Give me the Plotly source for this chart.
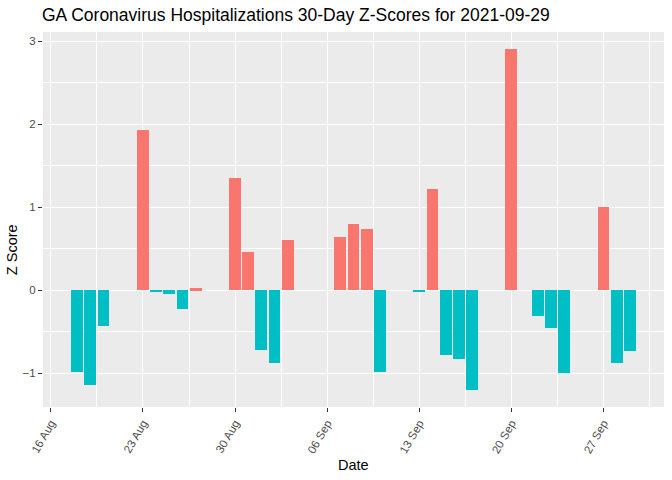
import plotly.graph_objects as go

dates = ["2021-08-18", "2021-08-19", "2021-08-20", "2021-08-23", "2021-08-24",
         "2021-08-25", "2021-08-26", "2021-08-27", "2021-08-30", "2021-08-31",
         "2021-09-01", "2021-09-02", "2021-09-03", "2021-09-07", "2021-09-08",
         "2021-09-09", "2021-09-10", "2021-09-13", "2021-09-14", "2021-09-15",
         "2021-09-16", "2021-09-17", "2021-09-20", "2021-09-22", "2021-09-23",
         "2021-09-24", "2021-09-27", "2021-09-28", "2021-09-29"]
z_scores = [-0.99, -1.145, -0.434, 1.928, -0.013,
            -0.048, -0.229, 0.024, 1.349, 0.458,
            -0.723, -0.88, 0.602, 0.639, 0.795,
            0.735, -0.988, -0.024, 1.217, -0.783,
            -0.831, -1.205, 2.904, -0.313, -0.458,
            -1.0, 1.0, -0.88, -0.735]

pos_color = "#F8766D"
neg_color = "#00BFC4"
colors = [pos_color if v > 0 else neg_color for v in z_scores]

DAY = 86400000
W, H = 672, 480
L, R, T, B = 43, 8, 32, 73.3
PW, PH = W - L - R, H - T - B

fig = go.Figure()
fig.add_trace(go.Bar(x=dates, y=z_scores, marker_color=colors,
                     marker_line_width=0, width=[0.9 * DAY] * len(dates),
                     showlegend=False))

fig.update_layout(
    width=W, height=H,
    margin=dict(l=L, r=R, t=T, b=B, autoexpand=False),
    paper_bgcolor="white",
    plot_bgcolor="#EBEBEB",
    font=dict(family="Liberation Sans, Arial", color="black"),
    title=dict(text="GA Coronavirus Hospitalizations 30-Day Z-Scores for 2021-09-29",
               x=42 / W, xanchor="left", y=1 - 15 / H, yanchor="middle",
               font=dict(size=17.5, color="black")),
    bargap=0,
    annotations=[
        dict(text="Date", xref="paper", yref="paper", x=0.5, y=-(465 - (H - B)) / PH,
             xanchor="center", yanchor="middle", showarrow=False,
             font=dict(size=14.5, color="black")),
        dict(text="Z Score", xref="paper", yref="paper", x=-(L - 12) / PW, y=((H - B) - 250) / PH,
             xanchor="center", yanchor="middle", textangle=-90, showarrow=False,
             font=dict(size=14.5, color="black")),
    ],
)

fig.update_xaxes(
    type="date", automargin=False,
    range=["2021-08-15 09:43", "2021-10-01 14:17"],
    tick0="2021-08-16", dtick=7 * DAY, tickformat="%d %b",
    tickangle=-60,
    ticks="outside", ticklen=4, tickwidth=1, tickcolor="#333333",
    tickfont=dict(size=11.5, color="#4D4D4D"),
    showgrid=True, gridcolor="white", gridwidth=1.2,
    minor=dict(dtick=7 * DAY, tick0="2021-08-19 12:00", showgrid=True,
               gridcolor="white", gridwidth=0.6, ticks=""),
    zeroline=False, showline=False,
)

fig.update_yaxes(
    automargin=False,
    range=[-1.406, 3.11],
    tick0=0, dtick=1,
    ticks="outside", ticklen=4, tickwidth=1, tickcolor="#333333",
    tickfont=dict(size=11.5, color="#4D4D4D"),
    showgrid=True, gridcolor="white", gridwidth=1.2,
    minor=dict(dtick=0.5, showgrid=True, gridcolor="white", gridwidth=0.6, ticks=""),
    zeroline=False, showline=False,
)

fig.write_html("out.html", config={"displayModeBar": False},
               post_script="document.body.style.margin='0';")
